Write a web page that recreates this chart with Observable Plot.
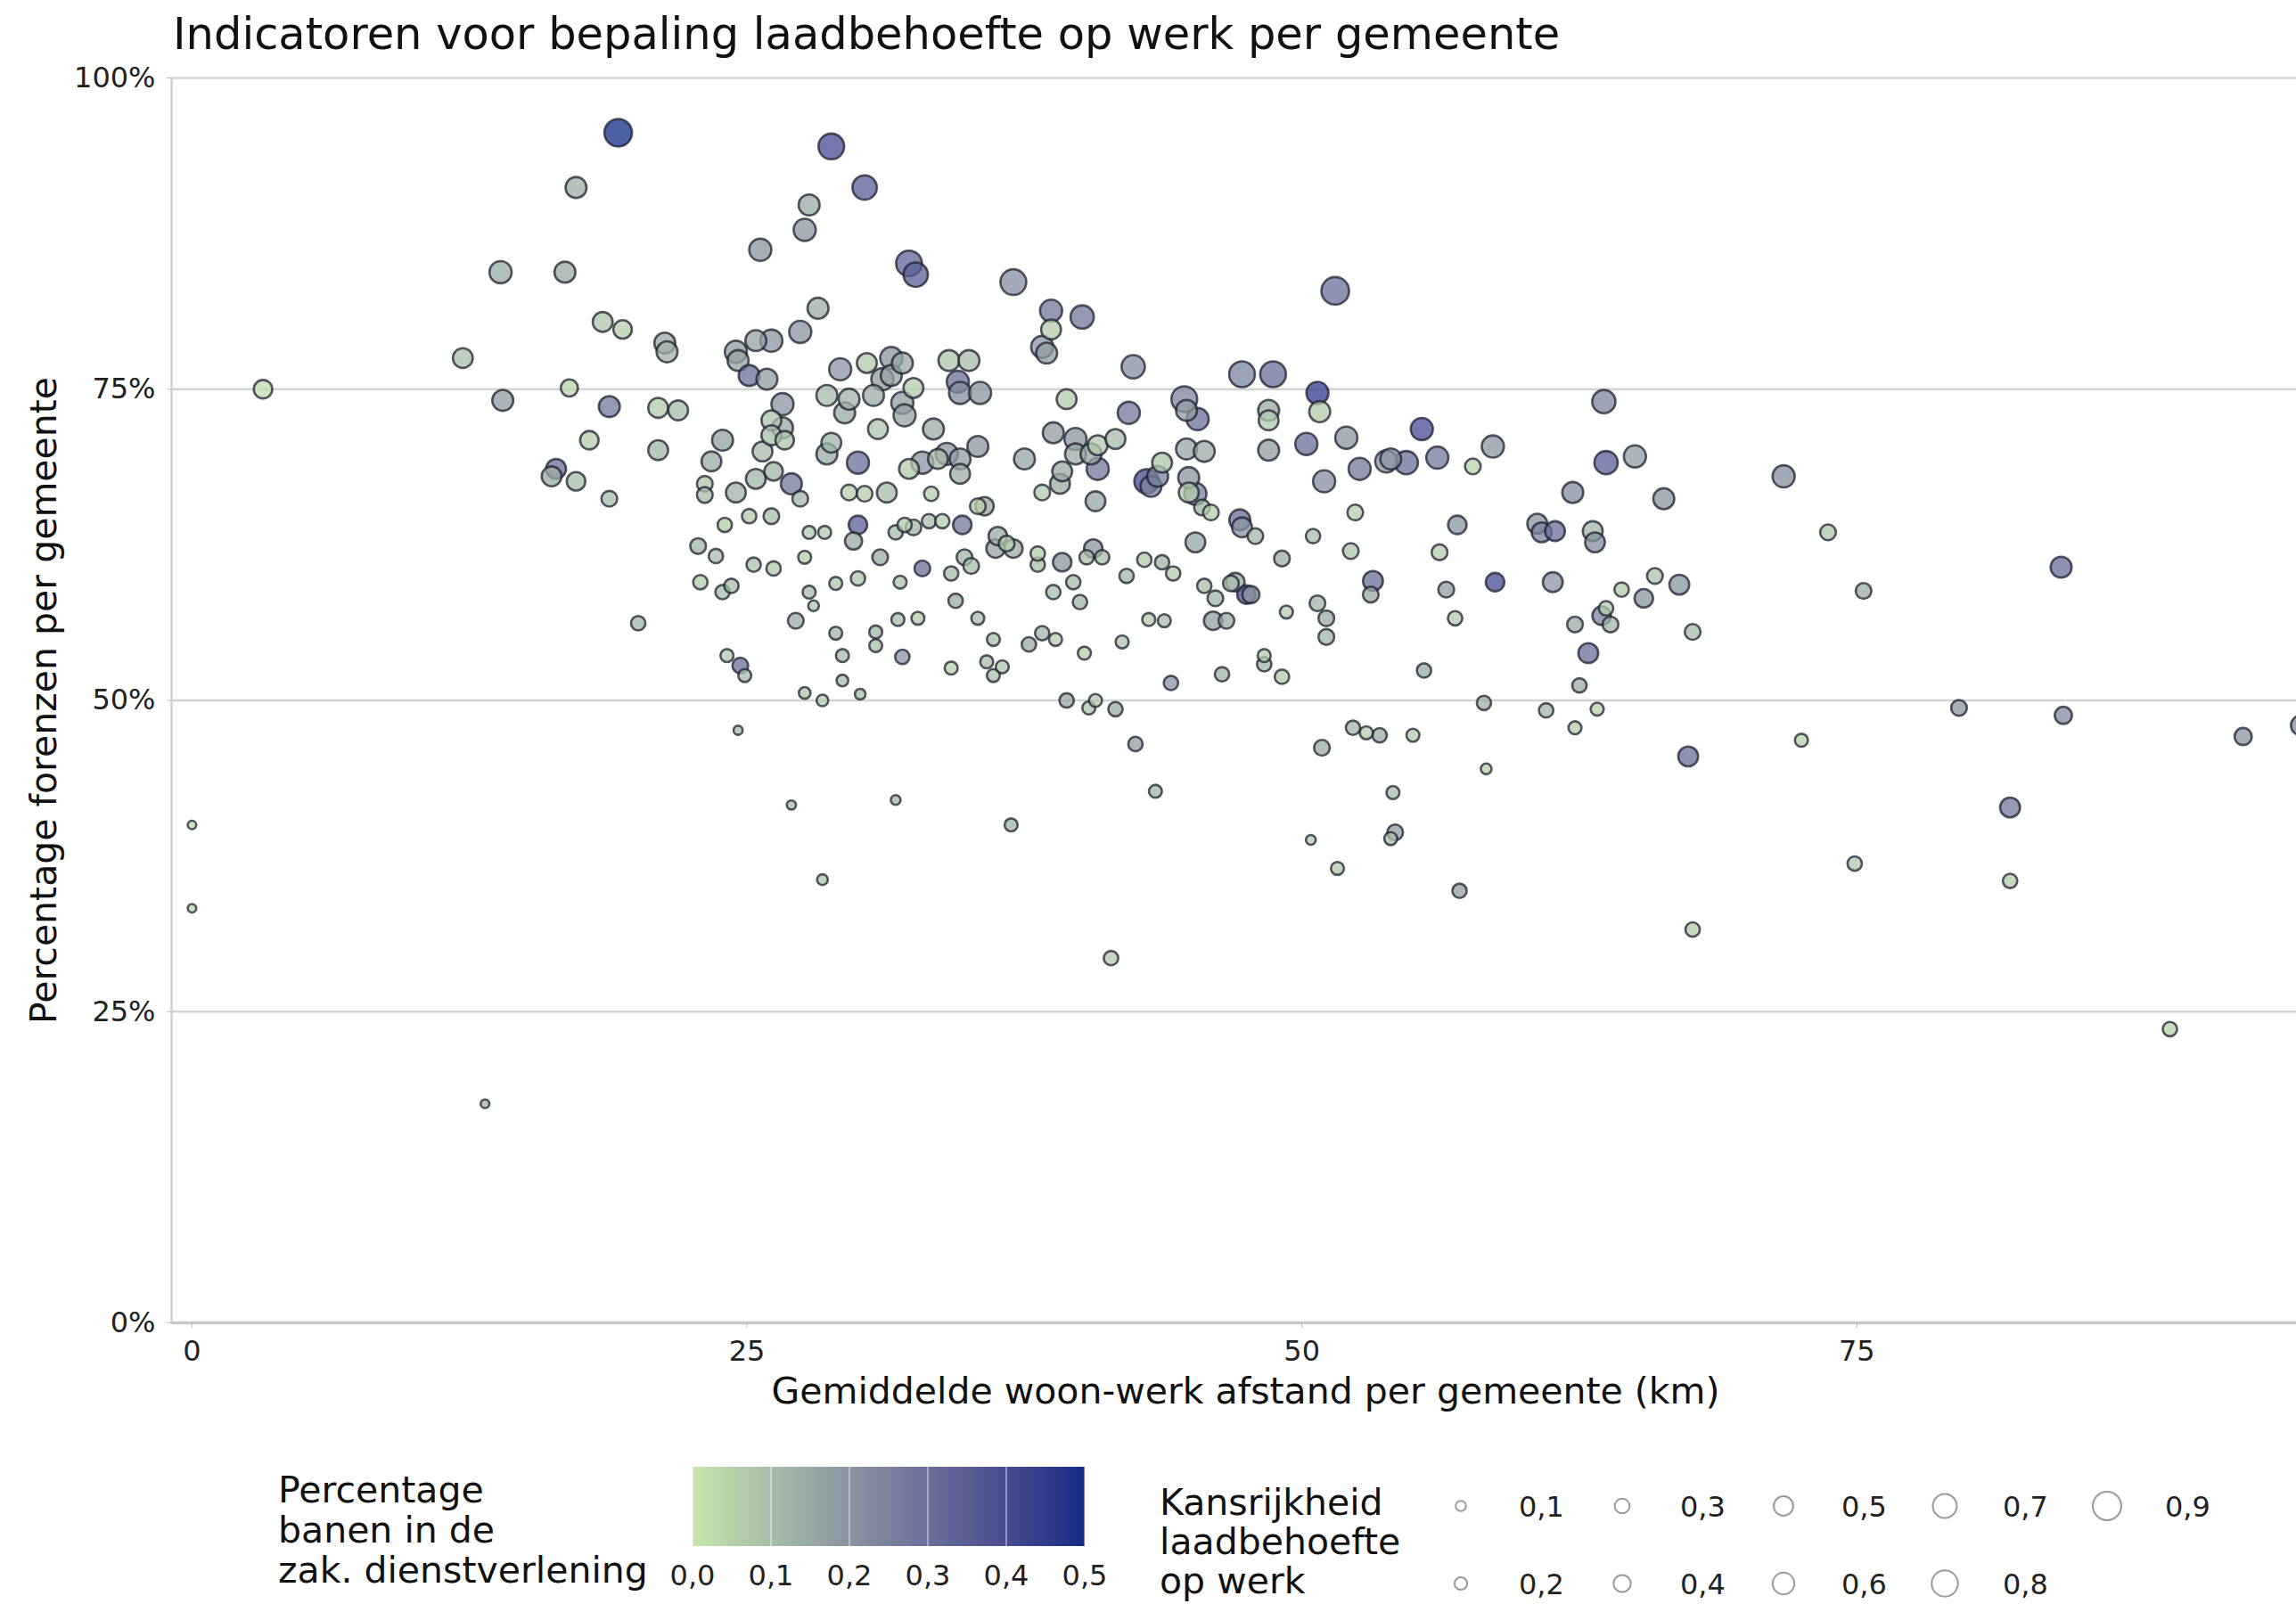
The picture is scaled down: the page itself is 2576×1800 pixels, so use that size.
<!DOCTYPE html>
<html>
<head>
<meta charset="utf-8">
<script src="https://cdn.jsdelivr.net/npm/d3@7"></script>
<script src="https://cdn.jsdelivr.net/npm/@observablehq/plot@0.6"></script>
<style>
  html, body { margin: 0; padding: 0; background: #fff; }
  #wrap { position: relative; width: 2576px; height: 1800px; overflow: hidden; font-family: "DejaVu Sans", sans-serif; }
  #wrap > svg, #wrap > div { position: absolute; left: 0; }
</style>
</head>
<body>
<div id="wrap"></div>
<script>
// ---- data ----
const titleText = "Indicatoren voor bepaling laadbehoefte op werk per gemeente";
const xLabel = "Gemiddelde woon-werk afstand per gemeente (km)";
const yLabel = "Percentage forenzen per gemeente";
const colorTitle = ["Percentage", "banen in de", "zak. dienstverlening"];
const sizeTitle = ["Kansrijkheid", "laadbehoefte", "op werk"];
const xTicks = [0, 25, 50, 75];
const yTicks = [0, 25, 50, 75, 100];
const colorTicks = [0, 0.1, 0.2, 0.3, 0.4, 0.5];
const sizeTicks = [0.1, 0.2, 0.3, 0.4, 0.5, 0.6, 0.7, 0.8, 0.9];

// average home-work distance (km)
const afstand = [0.0,0.0,3.2,13.2,12.2,13.9,14.0,17.3,16.8,19.2,18.5,19.4,17.0,18.8,16.4,17.3,17.9,18.8,16.2,20.1,
21.0,21.0,21.3,21.4,21.9,22.8,23.1,23.1,23.4,22.9,23.6,23.9,23.9,24.0,24.1,24.5,24.6,24.5,24.3,24.7,
24.9,24.6,25.1,25.3,25.1,25.4,25.6,25.4,25.7,25.9,26.1,26.1,26.1,26.2,26.1,26.2,26.6,26.6,26.7,27.0,
27.0,27.2,27.4,27.4,27.6,27.8,28.2,27.6,27.8,28.0,27.8,27.6,28.4,28.4,28.5,28.6,28.6,28.8,28.8,29.0,
29.0,29.2,29.3,29.3,29.4,29.6,29.6,29.8,30.0,30.0,30.0,30.1,30.3,30.4,30.3,30.7,30.8,30.8,30.9,31.0,
31.1,31.3,31.5,31.5,31.7,31.7,31.8,31.9,32.0,32.0,32.1,32.0,32.1,32.3,32.3,32.6,32.5,32.5,32.7,32.9,
32.9,33.2,33.3,33.4,33.6,33.8,34.0,34.1,34.2,34.2,34.4,34.5,34.6,34.6,34.6,34.7,34.8,35.0,35.1,35.4,
35.4,35.4,35.5,35.7,35.8,36.1,36.1,36.2,36.3,36.5,36.7,37.0,37.0,36.9,37.5,37.7,38.1,38.1,38.3,38.3,
38.3,38.5,38.7,38.8,38.7,38.8,38.9,39.1,39.2,39.2,39.4,39.4,39.7,39.8,39.8,40.0,40.1,40.2,40.3,40.4,
40.5,40.6,40.7,40.7,40.8,40.8,41.0,41.4,41.6,41.6,41.9,42.1,42.2,42.4,42.5,42.9,43.0,43.2,43.1,43.4,
43.5,43.7,43.7,43.8,44.1,44.2,44.7,44.8,44.8,44.9,44.9,45.2,45.2,45.3,45.6,45.5,45.6,45.9,46.0,46.1,
46.4,46.6,46.8,47.0,47.2,47.3,47.3,47.5,47.7,47.9,48.3,48.3,48.5,48.5,48.5,48.7,49.1,49.3,49.1,50.2,
50.4,50.5,50.7,50.8,50.7,50.9,51.0,51.1,51.1,51.5,51.6,52.0,52.2,52.3,52.4,52.6,52.9,53.1,53.2,53.5,
53.8,54.0,54.0,54.1,54.2,54.7,55.0,55.4,55.5,56.1,56.2,56.5,56.9,57.0,57.1,57.7,58.2,58.3,58.6,58.7,
60.6,60.8,61.0,61.4,61.3,62.2,62.3,62.5,62.3,62.9,63.1,63.2,63.3,63.5,63.6,63.7,63.7,63.9,64.4,65.0,
65.4,65.9,66.3,67.0,67.4,67.6,67.6,71.7,72.5,73.7,74.9,75.3,79.6,81.9,81.9,84.2,84.3,89.1,92.4,95.0];

// share of commuters (%)
const forenzen = [40.0,33.3,75.0,17.6,77.5,84.4,74.1,91.2,84.4,95.6,80.4,79.8,75.1,73.6,68.6,67.6,70.9,66.2,68.0,56.2,
70.1,73.5,78.7,78.0,73.3,62.4,67.4,66.5,69.2,59.5,61.6,70.9,58.7,64.1,53.6,78.0,77.3,66.7,59.2,52.8,
52.0,47.6,64.8,60.9,76.1,78.9,86.2,67.8,70.0,75.8,78.9,72.5,71.3,68.4,64.8,60.6,71.9,73.8,70.9,67.4,
41.6,56.4,66.2,79.6,87.8,89.8,81.5,61.5,58.7,57.6,63.5,50.6,50.0,35.6,63.5,74.5,69.8,94.5,70.7,59.4,
55.4,76.6,53.6,51.6,73.1,74.2,66.7,62.8,59.8,64.1,69.1,50.5,91.2,77.1,66.6,74.5,55.5,54.4,71.8,61.5,
75.8,66.7,77.5,76.1,42.0,63.5,56.5,59.5,77.1,73.9,72.9,53.5,64.1,68.6,85.1,84.2,75.1,63.9,56.6,69.1,
60.6,64.4,66.6,71.8,69.4,64.4,69.8,77.3,52.6,60.2,58.0,75.6,74.7,69.4,68.2,64.1,61.5,77.3,60.8,56.6,
65.6,70.4,74.7,65.6,53.1,52.0,54.9,62.2,63.2,52.7,62.6,83.6,62.2,40.0,69.4,54.5,60.9,61.8,66.7,55.4,
78.4,77.9,81.3,71.5,79.8,58.7,54.9,67.4,68.4,61.1,74.2,50.0,59.5,69.8,71.0,57.9,80.8,53.8,61.5,49.4,
69.8,62.2,66.0,50.0,70.5,68.6,61.5,29.3,49.3,71.0,54.7,60.0,73.1,76.8,46.5,61.3,67.6,67.2,56.5,42.7,
68.0,69.1,61.1,56.4,51.4,60.2,74.2,70.2,73.3,67.9,66.7,62.7,66.6,72.6,70.0,65.5,59.2,65.1,56.4,58.2,
52.1,56.4,59.4,59.5,64.5,63.9,76.2,58.5,58.5,63.2,53.6,52.9,72.5,73.3,70.1,76.2,61.4,57.1,51.9,70.6,
38.8,63.2,74.7,73.2,57.8,46.2,67.6,56.6,55.1,82.9,36.5,71.1,62.0,47.8,65.1,68.6,47.4,58.5,59.6,47.2,
69.2,69.4,38.9,42.6,39.4,69.1,47.2,71.8,52.4,69.5,61.9,58.9,56.6,64.1,34.7,68.8,49.8,44.5,70.4,59.5,
64.2,63.5,49.2,63.6,59.5,66.7,56.1,51.2,47.8,53.8,63.6,62.7,49.3,56.8,74.0,69.1,57.4,56.1,58.9,69.6,
58.2,60.0,66.2,59.3,45.5,55.5,31.6,68.0,46.8,63.5,36.9,58.8,49.4,41.4,35.5,60.7,48.8,23.6,47.1,48.0];

// likelihood of charging demand at work (size)
const kansrijkheid = [0.02,0.02,0.46,0.03,0.52,0.62,0.57,0.57,0.57,0.86,0.52,0.46,0.4,0.57,0.52,0.46,0.46,0.34,0.52,0.28,
0.52,0.52,0.57,0.57,0.52,0.34,0.34,0.34,0.52,0.28,0.28,0.57,0.28,0.28,0.22,0.62,0.57,0.52,0.28,0.34,
0.22,0.05,0.28,0.28,0.57,0.57,0.62,0.52,0.52,0.57,0.62,0.52,0.52,0.46,0.34,0.28,0.57,0.62,0.46,0.57,
0.05,0.34,0.34,0.62,0.62,0.57,0.57,0.22,0.22,0.12,0.22,0.16,0.16,0.12,0.22,0.57,0.57,0.78,0.52,0.22,
0.22,0.62,0.22,0.16,0.57,0.57,0.34,0.4,0.28,0.46,0.62,0.12,0.72,0.52,0.34,0.57,0.22,0.22,0.52,0.34,
0.62,0.52,0.62,0.57,0.08,0.28,0.22,0.22,0.57,0.62,0.62,0.28,0.28,0.52,0.78,0.72,0.52,0.34,0.22,0.62,
0.34,0.28,0.28,0.57,0.52,0.28,0.62,0.57,0.22,0.28,0.28,0.62,0.62,0.57,0.52,0.46,0.34,0.57,0.34,0.22,
0.34,0.57,0.62,0.46,0.22,0.22,0.22,0.46,0.46,0.22,0.34,0.78,0.46,0.22,0.57,0.28,0.28,0.28,0.34,0.28,
0.62,0.57,0.62,0.57,0.52,0.28,0.22,0.52,0.52,0.46,0.52,0.28,0.28,0.57,0.62,0.28,0.67,0.22,0.28,0.22,
0.57,0.46,0.52,0.22,0.52,0.62,0.28,0.28,0.28,0.52,0.22,0.28,0.62,0.67,0.28,0.28,0.72,0.57,0.22,0.22,
0.57,0.52,0.28,0.22,0.28,0.28,0.78,0.57,0.57,0.57,0.52,0.52,0.62,0.62,0.57,0.34,0.28,0.34,0.46,0.34,
0.28,0.34,0.34,0.46,0.57,0.52,0.78,0.46,0.4,0.34,0.22,0.28,0.52,0.57,0.57,0.78,0.34,0.22,0.28,0.62,
0.08,0.28,0.62,0.57,0.34,0.34,0.62,0.34,0.34,0.86,0.22,0.62,0.34,0.28,0.34,0.62,0.22,0.34,0.52,0.28,
0.62,0.57,0.22,0.22,0.34,0.67,0.22,0.62,0.28,0.62,0.34,0.34,0.28,0.46,0.28,0.34,0.28,0.12,0.62,0.46,
0.52,0.52,0.28,0.52,0.52,0.57,0.34,0.28,0.22,0.52,0.52,0.52,0.22,0.46,0.67,0.67,0.28,0.34,0.28,0.62,
0.46,0.34,0.57,0.52,0.52,0.34,0.28,0.62,0.22,0.34,0.28,0.34,0.34,0.52,0.28,0.57,0.4,0.28,0.4,0.52];

// share of jobs in business services (colour)
const zakelijk = [0.02,0.03,0.02,0.12,0.1,0.15,0.18,0.14,0.15,0.5,0.08,0.06,0.04,0.28,0.3,0.1,0.06,0.1,0.15,0.12,
0.12,0.07,0.15,0.13,0.1,0.12,0.08,0.1,0.15,0.07,0.1,0.17,0.1,0.06,0.06,0.18,0.16,0.13,0.1,0.3,
0.1,0.1,0.07,0.09,0.3,0.17,0.2,0.12,0.11,0.18,0.2,0.08,0.1,0.12,0.1,0.07,0.15,0.2,0.08,0.28,
0.1,0.15,0.12,0.2,0.2,0.15,0.14,0.06,0.1,0.08,0.07,0.08,0.06,0.08,0.07,0.1,0.15,0.4,0.12,0.08,
0.12,0.2,0.1,0.1,0.15,0.13,0.06,0.15,0.08,0.35,0.3,0.1,0.35,0.07,0.06,0.15,0.12,0.1,0.08,0.15,
0.18,0.1,0.2,0.17,0.12,0.1,0.1,0.08,0.16,0.18,0.17,0.2,0.06,0.07,0.33,0.35,0.06,0.12,0.07,0.2,
0.3,0.1,0.06,0.15,0.11,0.06,0.2,0.08,0.06,0.1,0.15,0.3,0.22,0.18,0.14,0.28,0.12,0.1,0.1,0.1,
0.06,0.2,0.2,0.15,0.1,0.1,0.1,0.16,0.15,0.08,0.06,0.22,0.14,0.12,0.16,0.15,0.1,0.06,0.07,0.12,
0.2,0.18,0.28,0.18,0.07,0.1,0.06,0.14,0.15,0.2,0.07,0.15,0.1,0.15,0.2,0.12,0.28,0.06,0.1,0.08,
0.16,0.2,0.16,0.06,0.07,0.28,0.1,0.07,0.14,0.11,0.08,0.12,0.28,0.22,0.18,0.06,0.4,0.25,0.06,0.12,
0.25,0.08,0.12,0.1,0.2,0.06,0.24,0.16,0.18,0.2,0.07,0.16,0.25,0.3,0.15,0.12,0.1,0.06,0.18,0.12,
0.12,0.15,0.1,0.15,0.3,0.2,0.25,0.38,0.2,0.12,0.06,0.12,0.07,0.15,0.18,0.3,0.14,0.06,0.06,0.3,
0.06,0.1,0.45,0.07,0.12,0.15,0.22,0.15,0.12,0.3,0.07,0.2,0.08,0.12,0.06,0.28,0.06,0.15,0.3,0.15,
0.2,0.2,0.1,0.1,0.18,0.3,0.06,0.4,0.15,0.28,0.06,0.18,0.07,0.2,0.18,0.05,0.14,0.05,0.2,0.4,
0.2,0.25,0.12,0.3,0.2,0.22,0.15,0.15,0.06,0.3,0.12,0.22,0.05,0.25,0.24,0.35,0.06,0.12,0.07,0.18,
0.2,0.08,0.2,0.2,0.3,0.1,0.06,0.22,0.05,0.08,0.07,0.15,0.2,0.28,0.06,0.3,0.22,0.05,0.2,0.22];

const colorLow = "#c6e6ad";
const colorHigh = "#102a87";

// ---- layout ----
const W = 2576;
const plotTop = 60;
const plotH = 1540;
const mLeft = 192, mTop = 27, mBottom = 116;
const xDomain = [-0.92, 94.8];
const font = "DejaVu Sans";

const data = afstand.map((x, i) => ({x, y: forenzen[i], k: kansrijkheid[i], z: zakelijk[i]}));

const wrap = document.getElementById("wrap");

// title
const head = d3.create("svg").attr("width", W).attr("height", 80).style("top", "0px");
head.append("text").attr("x", 194).attr("y", 55)
  .attr("font-family", font).attr("font-size", 49.5).attr("fill", "#111").text(titleText);
wrap.appendChild(head.node());

const plot = Plot.plot({
  width: W,
  height: plotH,
  marginLeft: mLeft,
  marginRight: 0,
  marginTop: mTop,
  marginBottom: mBottom,
  style: {fontFamily: font, background: "transparent", overflow: "visible"},
  x: {domain: xDomain, label: null},
  y: {domain: [0, 100], label: null},
  color: {type: "linear", domain: [0, 0.5], range: [colorLow, colorHigh], interpolate: "lab"},
  r: {type: "linear", domain: [0, 0.9], range: [4.5, 16]},
  marks: [
    Plot.gridY(yTicks.filter(d => d > 0), {stroke: "#d3d3d3", strokeOpacity: 1, strokeWidth: 2.5}),
    Plot.ruleY([0], {stroke: "#c8c8c8", strokeWidth: 3.5}),
    Plot.ruleX([xDomain[0]], {y1: 0, y2: 100, stroke: "#d0d0d0", strokeWidth: 2.5}),
    Plot.axisX({ticks: xTicks, tickSize: 6, tickPadding: 14, fontSize: 32, stroke: "#bbb", fill: "#222", label: null}),
    Plot.axisY({ticks: yTicks, tickSize: 5, tickPadding: 13, fontSize: 32, stroke: "#bbb", fill: "#222",
      tickFormat: d => d + "%", label: null}),
    Plot.dot(data, {x: "x", y: "y", r: "k", fill: "z", fillOpacity: 0.75,
      stroke: "#1c2230", strokeOpacity: 0.75, strokeWidth: 2.6}),
    Plot.text([xLabel], {frameAnchor: "bottom", lineAnchor: "middle", textAnchor: "middle",
      dy: 77, dx: 13, fontSize: 41, fill: "#111"}),
    Plot.text([yLabel], {frameAnchor: "left", lineAnchor: "middle", textAnchor: "middle",
      dx: -143, rotate: -90, fontSize: 41, fill: "#111"})
  ]
});
plot.style.top = plotTop + "px";
wrap.appendChild(plot);

// ---- legends ----
const cs = plot.scale("color");
const rs = plot.scale("r");
const legTop = 1600;
const leg = d3.create("svg").attr("width", W).attr("height", 200).style("top", legTop + "px")
  .attr("font-family", font);

// colour legend
const cx0 = 777, cx1 = 1217, cy0 = 1646 - legTop, cy1 = 1735 - legTop;
colorTitle.forEach((t, i) => leg.append("text").attr("x", 312).attr("y", 1686 - legTop + i * 45)
  .attr("font-size", 41).attr("fill", "#111").text(t));
const grad = leg.append("defs").append("linearGradient").attr("id", "cbar");
d3.range(0, 1.0001, 0.05).forEach(t => grad.append("stop").attr("offset", t)
  .attr("stop-color", cs.apply(t * 0.5)));
leg.append("rect").attr("x", cx0).attr("y", cy0).attr("width", cx1 - cx0).attr("height", cy1 - cy0)
  .attr("fill", "url(#cbar)");
const cx = d3.scaleLinear().domain([0, 0.5]).range([cx0, cx1]);
colorTicks.forEach(v => {
  leg.append("line").attr("x1", cx(v)).attr("x2", cx(v)).attr("y1", cy0).attr("y2", cy1)
    .attr("stroke", "#fff").attr("stroke-opacity", 0.55).attr("stroke-width", 1.5);
  leg.append("text").attr("x", cx(v)).attr("y", 1779 - legTop).attr("text-anchor", "middle")
    .attr("font-size", 32).attr("fill", "#222").text(d3.format(".1f")(v).replace(".", ","));
});

// size legend
sizeTitle.forEach((t, i) => leg.append("text").attr("x", 1301).attr("y", 1700 - legTop + i * 44)
  .attr("font-size", 41).attr("fill", "#111").text(t));
const colX = [1639, 1820, 2001, 2182, 2364];
sizeTicks.forEach((v, i) => {
  const col = Math.floor(i / 2), row = i % 2;
  const x = colX[col];
  const yc = (row === 0 ? 1690 : 1777) - legTop;
  leg.append("circle").attr("cx", x).attr("cy", yc).attr("r", rs.apply(v))
    .attr("fill", "none").attr("stroke", "#9a9a9a").attr("stroke-width", 2);
  leg.append("text").attr("x", x + 65).attr("y", yc + 12).attr("font-size", 32).attr("fill", "#222")
    .text(d3.format(".1f")(v).replace(".", ","));
});
wrap.appendChild(leg.node());
</script>
</body>
</html>
